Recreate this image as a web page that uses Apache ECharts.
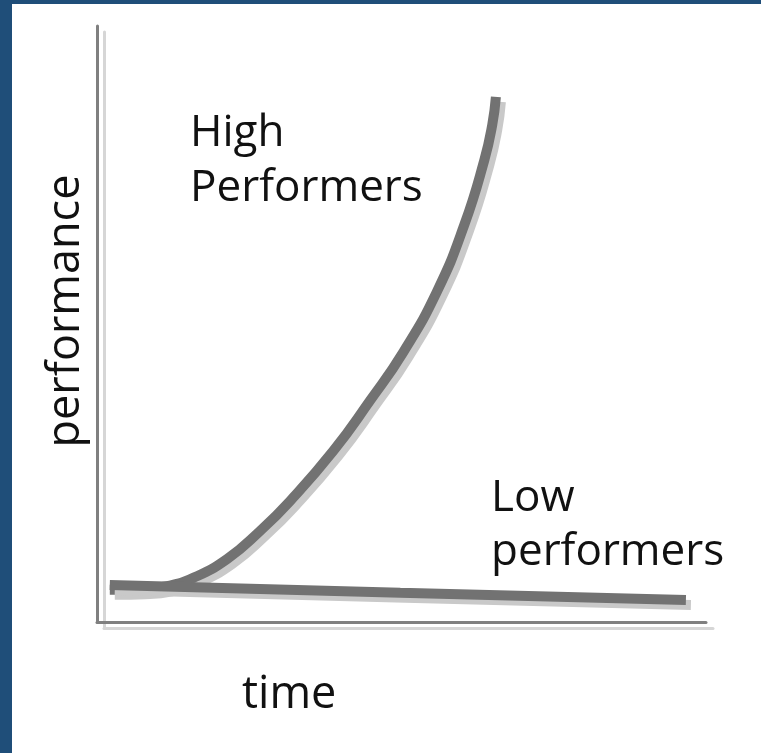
<!DOCTYPE html>
<html>
<head>
<meta charset="utf-8">
<script src="https://cdn.jsdelivr.net/npm/echarts@6/dist/echarts.min.js"></script>
<style>
  html, body { margin: 0; padding: 0; background: #1F4E79; }
  #chart { position: absolute; left: 12px; top: 4px; width: 749px; height: 749px; background: #ffffff; }
</style>
</head>
<body>
<div id="chart"></div>
<script>
// Data (time, performance) on a 0-100 conceptual scale
const highTime = [2.1, 7.1, 11.5, 15.8, 21.4, 26.8, 31.7, 38.8, 44.8, 50.3, 55.8, 60.3, 63.6, 64.9, 65.5];
const highPerf = [5.4, 5.5, 6.0, 7.4, 10.6, 15.3, 20.3, 28.7, 37.1, 45.3, 55.4, 66.6, 77.5, 83.4, 88.1];
const lowTime = [2.1, 49.8, 96.7];
const lowPerf = [6.2, 4.9, 3.7];
const labels = {
  high: 'High\nPerformers',
  low: 'Low\nperformers',
  xName: 'time',
  yName: 'performance'
};

const zip = (xs, ys) => xs.map((x, i) => [x, ys[i]]);

const chart = echarts.init(document.getElementById('chart'));
const font = '44px "Open Sans"';
const font2 = '45px "Open Sans"';
const axisStyle = {
  color: '#808080', width: 3,
  shadowColor: '#d6d6d6', shadowBlur: 0, shadowOffsetX: 7, shadowOffsetY: 6
};
const lineStyle = {
  color: '#727272', width: 10, cap: 'butt',
  shadowColor: '#c9c9c9', shadowBlur: 0, shadowOffsetX: 5, shadowOffsetY: 5
};
chart.setOption({
  animation: false,
  backgroundColor: '#ffffff',
  grid: { left: 85, top: 22, right: 55, bottom: 131 },
  xAxis: {
    type: 'value', min: 0, max: 100,
    axisLine: { show: true, onZero: false, lineStyle: axisStyle },
    axisTick: { show: false }, axisLabel: { show: false }, splitLine: { show: false }
  },
  yAxis: {
    type: 'value', min: 0, max: 100,
    axisLine: { show: true, onZero: false, lineStyle: axisStyle },
    axisTick: { show: false }, axisLabel: { show: false }, splitLine: { show: false }
  },
  series: [
    { name: 'High performers', type: 'line', data: zip(highTime, highPerf), smooth: 0.5,
      showSymbol: false, lineStyle: lineStyle, z: 2 },
    { name: 'Low performers', type: 'line', data: zip(lowTime, lowPerf), smooth: 0.5,
      showSymbol: false, lineStyle: lineStyle, z: 3 }
  ],
  graphic: [
    { type: 'text', left: 178, top: 102, style: { text: labels.high, font: font, fill: '#111', lineHeight: 55 } },
    { type: 'text', left: 479, top: 467, style: { text: labels.low, font: font, fill: '#111', lineHeight: 54 } },
    { type: 'text', left: 230, top: 669, style: { text: labels.xName, font: font2, fill: '#111' } },
    { type: 'text', x: 54, y: 307, rotation: Math.PI / 2,
      style: { text: labels.yName, font: font2, fill: '#111', align: 'center', verticalAlign: 'middle' } }
  ]
});
</script>
</body>
</html>
